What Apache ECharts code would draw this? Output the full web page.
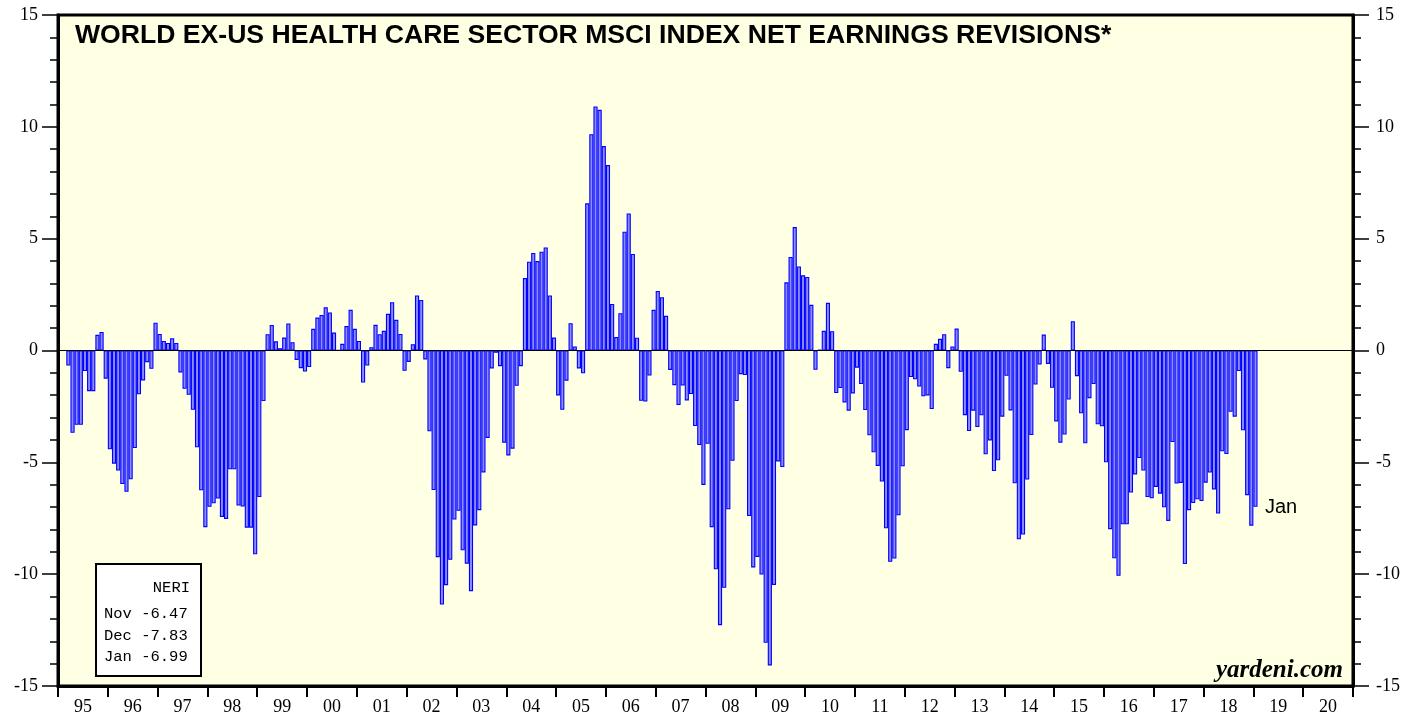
<!DOCTYPE html>
<html>
<head>
<meta charset="utf-8">
<title>World ex-US Health Care NERI</title>
<script src="https://cdn.jsdelivr.net/npm/echarts@6/dist/echarts.min.js"></script>
<style>
html, body { margin: 0; padding: 0; background: #fff; }
#chart { width: 1419px; height: 717px; }
</style>
</head>
<body>
<div id="chart"></div>
<script>
// year labels on the bottom axis, one per year slot
var years = ['95','96','97','98','99','00','01','02','03','04','05','06','07','08','09',
             '10','11','12','13','14','15','16','17','18','19','20'];

// monthly NERI, Mar 1995 .. Jan 2019
var firstMonth = 2; // index of Mar 1995 in the monthly axis
var neri = [
  // 1995 Mar-Dec
  -0.67, -3.68, -3.32, -3.32, -0.92, -1.82, -1.82, 0.70, 0.83, -1.26,
  // 1996
  -4.42, -5.06, -5.37, -5.97, -6.32, -5.76, -4.36, -1.96, -1.34, -0.52, -0.82, 1.24,
  // 1997
  0.74, 0.43, 0.34, 0.55, 0.34, -0.98, -1.71, -1.98, -2.65, -4.33, -6.25, -7.90,
  // 1998
  -6.99, -6.83, -6.62, -7.44, -7.53, -5.31, -5.31, -6.93, -6.98, -7.92, -7.92, -9.11,
  // 1999
  -6.55, -2.26, 0.73, 1.14, 0.41, 0.10, 0.58, 1.21, 0.37, -0.42, -0.79, -0.94,
  // 2000
  -0.74, 0.97, 1.47, 1.59, 1.93, 1.70, 0.80, 0.02, 0.30, 1.09, 1.82, 0.97,
  // 2001
  0.43, -1.43, -0.67, 0.15, 1.15, 0.73, 0.88, 1.64, 2.16, 1.37, 0.74, -0.91,
  // 2002
  -0.51, 0.28, 2.46, 2.26, -0.40, -3.61, -6.24, -9.24, -11.36, -10.49, -9.36, -7.56,
  // 2003
  -7.17, -8.93, -9.53, -10.76, -7.82, -7.14, -5.45, -3.91, -0.80, -0.10, -0.70, -4.12,
  // 2004
  -4.69, -4.39, -1.58, -0.70, 3.24, 3.97, 4.36, 4.00, 4.42, 4.61, 2.46, 0.58,
  // 2005
  -2.01, -2.65, -1.35, 1.22, 0.18, -0.80, -1.02, 6.58, 9.67, 10.91, 10.76, 9.14,
  // 2006
  8.29, 2.08, 0.60, 1.67, 5.31, 6.13, 4.32, 0.57, -2.25, -2.28, -1.12, 1.82,
  // 2007
  2.66, 2.38, 1.55, -0.87, -1.55, -2.44, -1.57, -2.23, -1.95, -3.38, -4.23, -6.01,
  // 2008
  -4.17, -7.90, -9.78, -12.28, -10.61, -7.10, -4.93, -2.26, -1.06, -1.10, -7.40, -9.70,
  // 2009
  -9.23, -10.02, -13.07, -14.08, -10.48, -4.96, -5.21, 3.05, 4.18, 5.52, 3.76, 3.36,
  // 2010
  3.29, 2.04, -0.86, 0.03, 0.88, 2.13, 0.86, -1.90, -1.68, -2.32, -2.69, -1.92,
  // 2011
  -0.77, -1.50, -2.66, -3.79, -4.55, -5.16, -5.86, -7.95, -9.45, -9.30, -7.37, -5.18,
  // 2012
  -3.56, -1.19, -1.29, -1.61, -2.05, -2.01, -2.62, 0.30, 0.52, 0.73, -0.79, 0.18,
  // 2013
  0.98, -0.95, -2.89, -3.60, -2.69, -3.42, -2.90, -4.64, -4.02, -5.39, -4.91, -2.96,
  // 2014
  -1.13, -2.68, -5.94, -8.44, -8.23, -5.77, -3.78, -1.52, -0.63, 0.71, -0.60, -1.67,
  // 2015
  -3.17, -4.12, -3.76, -2.19, 1.31, -1.15, -2.81, -4.15, -2.13, -1.50, -3.30, -3.39,
  // 2016
  -5.00, -7.99, -9.29, -10.07, -7.77, -7.77, -6.35, -5.54, -4.81, -5.37, -6.55, -6.61,
  // 2017
  -6.10, -6.40, -7.01, -7.62, -4.09, -5.95, -5.92, -9.55, -7.14, -6.82, -6.65, -6.73,
  // 2018
  -5.91, -5.46, -6.21, -7.29, -4.51, -4.63, -2.74, -2.96, -0.92, -3.57, -6.47, -7.83,
  // 2019
  -6.99
];

var boxTitle = 'NERI';
var boxLines = ['Nov -6.47', 'Dec -7.83', 'Jan -6.99'];

// monthly categories Jan 1995 .. Dec 2020
var months = [];
for (var y = 1995; y <= 2020; y++) {
  for (var m = 1; m <= 12; m++) {
    months.push(y + '-' + (m < 10 ? '0' + m : m));
  }
}
var barData = months.map(function (d, i) {
  var j = i - firstMonth;
  return (j >= 0 && j < neri.length) ? neri[j] : null;
});

var myChart = echarts.init(document.getElementById('chart'));

var yCommon = {
  type: 'value',
  min: -15,
  max: 15,
  interval: 5,
  axisLine: { show: true, lineStyle: { color: '#000', width: 3 } },
  axisTick: { show: true, length: 16, lineStyle: { color: '#000', width: 1.5 } },
  minorTick: { show: true, splitNumber: 5, length: 8, lineStyle: { color: '#000', width: 1.5 } },
  splitLine: { show: false },
  axisLabel: { color: '#000', fontFamily: 'Liberation Serif', fontSize: 18 }
};

var boxText = [{
  type: 'text',
  x: 190, y: 588,
  style: { text: boxTitle, font: '15.5px "Liberation Mono"', fill: '#000', align: 'right', verticalAlign: 'middle' },
  z: 11
}];
boxLines.forEach(function (t, i) {
  boxText.push({
    type: 'text',
    x: 104, y: 614 + i * 21.5,
    style: { text: t, font: '15.5px "Liberation Mono"', fill: '#000', align: 'left', verticalAlign: 'middle' },
    z: 11
  });
});

myChart.setOption({
  animation: false,
  backgroundColor: '#ffffff',
  title: {
    text: 'WORLD EX-US HEALTH CARE SECTOR MSCI INDEX NET EARNINGS REVISIONS*',
    left: 70,
    top: 17,
    textStyle: { fontFamily: 'Liberation Sans', fontWeight: 'bold', fontSize: 26.6, color: '#000' }
  },
  grid: {
    left: 58, right: 66, top: 15, bottom: 31,
    show: true,
    backgroundColor: '#ffffe3',
    borderColor: '#000',
    borderWidth: 3
  },
  xAxis: [
    {
      type: 'category',
      data: months,
      show: false,
      boundaryGap: true
    },
    {
      type: 'category',
      data: years,
      position: 'bottom',
      boundaryGap: true,
      axisLine: { show: true, onZero: false, lineStyle: { color: '#000', width: 3 } },
      axisTick: { show: true, interval: 0, length: 11, lineStyle: { color: '#000', width: 2 } },
      axisLabel: { color: '#000', fontFamily: 'Liberation Serif', fontSize: 18, margin: 12, interval: 0 }
    }
  ],
  yAxis: [
    Object.assign({}, yCommon, { position: 'left', axisLabel: Object.assign({}, yCommon.axisLabel, { margin: 20 }) }),
    Object.assign({}, yCommon, { position: 'right', axisLabel: Object.assign({}, yCommon.axisLabel, { margin: 23 }) })
  ],
  series: [
    {
      type: 'bar',
      xAxisIndex: 0,
      yAxisIndex: 0,
      data: barData,
      barWidth: '100%',
      barCategoryGap: '0%',
      itemStyle: { color: '#8c8cff', borderColor: '#0000ff', borderWidth: 1.1 },
      markLine: {
        silent: true,
        symbol: 'none',
        label: { show: false },
        lineStyle: { color: '#000', width: 1, type: 'solid' },
        data: [{ yAxis: 0 }]
      }
    }
  ],
  graphic: [
    {
      type: 'rect',
      shape: { x: 96, y: 564, width: 105, height: 112 },
      style: { fill: '#fff', stroke: '#000', lineWidth: 2 },
      z: 10
    },
    {
      type: 'text',
      x: 1265, y: 507,
      style: { text: 'Jan', font: '20px "Liberation Sans"', fill: '#000', align: 'left', verticalAlign: 'middle' },
      z: 11
    },
    {
      type: 'text',
      x: 1343, y: 671,
      style: { text: 'yardeni.com', font: 'italic bold 25px "Liberation Serif"', fill: '#000', align: 'right', verticalAlign: 'middle' },
      z: 11
    }
  ].concat(boxText)
});
</script>
</body>
</html>
